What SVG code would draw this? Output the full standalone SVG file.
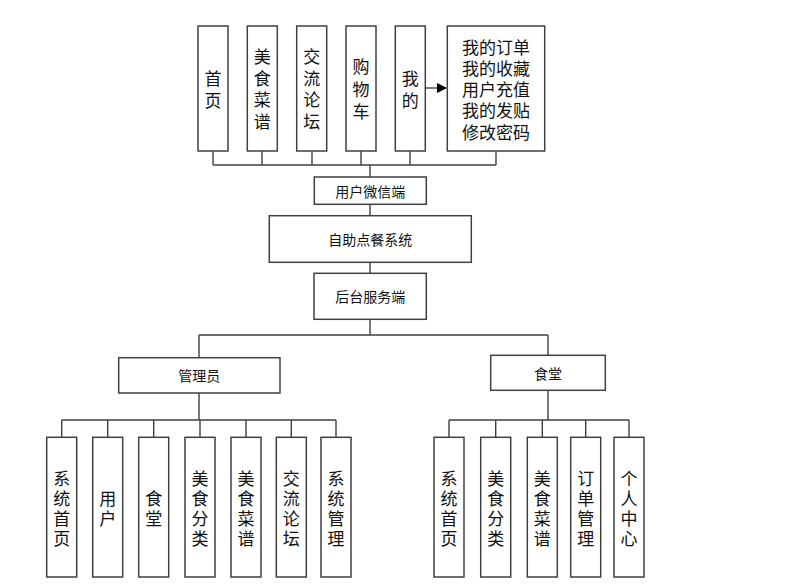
<svg xmlns="http://www.w3.org/2000/svg" width="797" height="586" viewBox="0 0 797 586">
<defs>
<style>
.box{fill:#fff;stroke:#404040;stroke-width:1.5}
.ln{fill:none;stroke:#404040;stroke-width:1.4}
.v{font-family:"Noto Sans CJK SC","Liberation Sans",sans-serif;font-size:17px;fill:#111;text-anchor:middle;dominant-baseline:central}
.h{font-family:"Noto Sans CJK SC","Liberation Sans",sans-serif;font-size:14px;fill:#111;text-anchor:middle;dominant-baseline:central}
</style>
<marker id="arr" markerWidth="10" markerHeight="10" refX="9" refY="5" orient="auto" markerUnits="userSpaceOnUse">
<path d="M0,0 L10,5 L0,10 z" fill="#000"/>
</marker>
</defs>
<rect width="797" height="586" fill="#fff"/>
<g id="connectors">
<path class="ln" d="M213,151 V165 M262,151 V165 M312,151 V165 M361,151 V165 M410,151 V165 M496,151 V165 M213,165 H496"/>
<path class="ln" d="M370,165 V177 M370,204 V216 M370,262 V273 M370,319 V335"/>
<path class="ln" d="M199,335 H548 M199,335 V358 M548,335 V355"/>
<path class="ln" d="M199,393 V420 M61.7,420 H336 M61.7,420 V437 M107.7,420 V437 M153.7,420 V437 M200,420 V437 M246,420 V437 M291.3,420 V437 M336,420 V437"/>
<path class="ln" d="M548,390 V420 M449,420 H629 M449,420 V437 M495.7,420 V437 M542.3,420 V437 M585.7,420 V437 M629,420 V437"/>
<path class="ln" d="M425,88 H446" marker-end="url(#arr)"/>
</g>
<g id="n-shouye"><rect class="box" x="198" y="26" width="30" height="125"/><text class="v" x="213"><tspan x="213" y="77">首</tspan><tspan x="213" y="98.5">页</tspan></text></g>
<g id="n-meishicaipu"><rect class="box" x="247.3" y="26" width="30" height="125"/><text class="v"><tspan x="262.3" y="55">美</tspan><tspan x="262.3" y="76.5">食</tspan><tspan x="262.3" y="98">菜</tspan><tspan x="262.3" y="119.5">谱</tspan></text></g>
<g id="n-jiaoliu"><rect class="box" x="296.7" y="26" width="30" height="125"/><text class="v"><tspan x="311.7" y="55">交</tspan><tspan x="311.7" y="76.5">流</tspan><tspan x="311.7" y="98">论</tspan><tspan x="311.7" y="119.5">坛</tspan></text></g>
<g id="n-gouwuche"><rect class="box" x="346" y="26" width="30" height="125"/><text class="v"><tspan x="361" y="65">购</tspan><tspan x="361" y="87.5">物</tspan><tspan x="361" y="110">车</tspan></text></g>
<g id="n-wode"><rect class="box" x="395.3" y="26" width="30" height="125"/><text class="v"><tspan x="410.3" y="77">我</tspan><tspan x="410.3" y="98.5">的</tspan></text></g>
<g id="n-wodelist"><rect class="box" x="447.3" y="26" width="97.4" height="125"/><text class="v"><tspan x="496" y="45.5">我的订单</tspan><tspan x="496" y="66.8">我的收藏</tspan><tspan x="496" y="88.1">用户充值</tspan><tspan x="496" y="109.4">我的发贴</tspan><tspan x="496" y="130.7">修改密码</tspan></text></g>
<g id="n-weixin"><rect class="box" x="314.3" y="177" width="112" height="27.3"/><text class="h" x="370.3" y="190.6">用户微信端</text></g>
<g id="n-system"><rect class="box" x="269.3" y="215.7" width="202" height="46.6"/><text class="h" x="370.3" y="239">自助点餐系统</text></g>
<g id="n-houtai"><rect class="box" x="314" y="273.3" width="112.3" height="46"/><text class="h" x="370.2" y="296.3">后台服务端</text></g>
<g id="n-admin"><rect class="box" x="118.7" y="357.7" width="161.3" height="35.3"/><text class="h" x="199.3" y="375.3">管理员</text></g>
<g id="n-canteen"><rect class="box" x="490.7" y="355.3" width="114.6" height="35"/><text class="h" x="548" y="372.8">食堂</text></g>
<g id="a1"><rect class="box" x="46.7" y="437.3" width="30" height="139.7"/><text class="v"><tspan x="61.7" y="477">系</tspan><tspan x="61.7" y="497">统</tspan><tspan x="61.7" y="517">首</tspan><tspan x="61.7" y="537">页</tspan></text></g>
<g id="a2"><rect class="box" x="92.7" y="437.3" width="30" height="139.7"/><text class="v"><tspan x="107.7" y="497">用</tspan><tspan x="107.7" y="517">户</tspan></text></g>
<g id="a3"><rect class="box" x="138.7" y="437.3" width="30" height="139.7"/><text class="v"><tspan x="153.7" y="497">食</tspan><tspan x="153.7" y="517">堂</tspan></text></g>
<g id="a4"><rect class="box" x="185" y="437.3" width="30" height="139.7"/><text class="v"><tspan x="200" y="477">美</tspan><tspan x="200" y="497">食</tspan><tspan x="200" y="517">分</tspan><tspan x="200" y="537">类</tspan></text></g>
<g id="a5"><rect class="box" x="231" y="437.3" width="30" height="139.7"/><text class="v"><tspan x="246" y="477">美</tspan><tspan x="246" y="497">食</tspan><tspan x="246" y="517">菜</tspan><tspan x="246" y="537">谱</tspan></text></g>
<g id="a6"><rect class="box" x="276.3" y="437.3" width="30" height="139.7"/><text class="v"><tspan x="291.3" y="477">交</tspan><tspan x="291.3" y="497">流</tspan><tspan x="291.3" y="517">论</tspan><tspan x="291.3" y="537">坛</tspan></text></g>
<g id="a7"><rect class="box" x="321" y="437.3" width="30" height="139.7"/><text class="v"><tspan x="336" y="477">系</tspan><tspan x="336" y="497">统</tspan><tspan x="336" y="517">管</tspan><tspan x="336" y="537">理</tspan></text></g>
<g id="c1"><rect class="box" x="434" y="437.3" width="30" height="139.7"/><text class="v"><tspan x="449" y="477">系</tspan><tspan x="449" y="497">统</tspan><tspan x="449" y="517">首</tspan><tspan x="449" y="537">页</tspan></text></g>
<g id="c2"><rect class="box" x="480.7" y="437.3" width="30" height="139.7"/><text class="v"><tspan x="495.7" y="477">美</tspan><tspan x="495.7" y="497">食</tspan><tspan x="495.7" y="517">分</tspan><tspan x="495.7" y="537">类</tspan></text></g>
<g id="c3"><rect class="box" x="527.3" y="437.3" width="30" height="139.7"/><text class="v"><tspan x="542.3" y="477">美</tspan><tspan x="542.3" y="497">食</tspan><tspan x="542.3" y="517">菜</tspan><tspan x="542.3" y="537">谱</tspan></text></g>
<g id="c4"><rect class="box" x="570.7" y="437.3" width="30" height="139.7"/><text class="v"><tspan x="585.7" y="477">订</tspan><tspan x="585.7" y="497">单</tspan><tspan x="585.7" y="517">管</tspan><tspan x="585.7" y="537">理</tspan></text></g>
<g id="c5"><rect class="box" x="614" y="437.3" width="30" height="139.7"/><text class="v"><tspan x="629" y="477">个</tspan><tspan x="629" y="497">人</tspan><tspan x="629" y="517">中</tspan><tspan x="629" y="537">心</tspan></text></g>
</svg>
